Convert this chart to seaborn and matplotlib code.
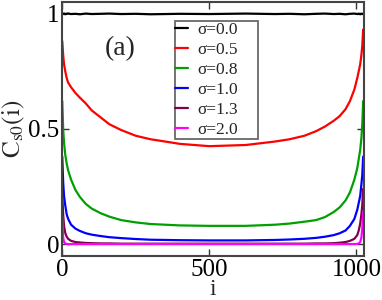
import matplotlib
matplotlib.use("Agg")
import matplotlib.pyplot as plt
import seaborn as sns
import pandas as pd

site = [0, 3, 6, 10, 15, 20, 30, 45, 60, 80, 100, 130, 160, 200, 250, 300, 400, 500,
        623, 723, 773, 823, 863, 893, 923, 943, 963, 978, 993, 1003, 1008, 1013, 1017, 1020, 1023]

sigma_labels = ["σ=0.0", "σ=0.5", "σ=0.8", "σ=1.0", "σ=1.3", "σ=2.0"]

c_s00 = [0.998, 0.997, 0.999, 0.996, 0.998, 0.999, 0.997, 0.998, 0.996, 0.999, 0.997, 0.998, 0.999, 0.997,
         0.998, 0.996, 0.998, 0.997, 0.999, 0.997, 0.998, 0.996, 0.998, 0.999, 0.997, 0.998, 0.996, 0.998,
         0.999, 0.997, 0.998, 0.996, 0.998, 0.997, 0.998]
c_s05 = [0.88, 0.82, 0.78, 0.75, 0.72, 0.70, 0.68, 0.655, 0.635, 0.61, 0.58, 0.55, 0.52, 0.495, 0.47,
         0.455, 0.435, 0.425, 0.43, 0.445, 0.455, 0.47, 0.49, 0.51, 0.535, 0.555, 0.585, 0.62, 0.67,
         0.72, 0.75, 0.78, 0.82, 0.86, 0.93]
c_s08 = [0.62, 0.50, 0.44, 0.39, 0.35, 0.32, 0.28, 0.235, 0.205, 0.175, 0.155, 0.135, 0.12, 0.105, 0.095,
         0.088, 0.082, 0.08, 0.08, 0.085, 0.09, 0.098, 0.105, 0.118, 0.14, 0.16, 0.19, 0.225, 0.28,
         0.33, 0.37, 0.41, 0.46, 0.52, 0.62]
c_s10 = [0.38, 0.27, 0.21, 0.17, 0.13, 0.11, 0.085, 0.068, 0.058, 0.048, 0.042, 0.036, 0.031, 0.027, 0.023,
         0.02, 0.018, 0.017, 0.017, 0.019, 0.021, 0.024, 0.028, 0.033, 0.04, 0.048, 0.06, 0.08, 0.11,
         0.15, 0.18, 0.21, 0.26, 0.30, 0.38]
c_s13 = [0.22, 0.13, 0.08, 0.05, 0.033, 0.024, 0.015, 0.01, 0.008, 0.006, 0.005, 0.004, 0.004, 0.003, 0.003,
         0.003, 0.003, 0.003, 0.003, 0.003, 0.003, 0.003, 0.004, 0.004, 0.005, 0.007, 0.01, 0.015, 0.024,
         0.04, 0.06, 0.09, 0.13, 0.17, 0.24]
c_s20 = [0.12, 0.03, 0.01, 0.004, 0.002, 0.001, 0.001, 0.001, 0.001, 0.001, 0.001, 0.001, 0.001, 0.001, 0.001,
         0.001, 0.001, 0.001, 0.001, 0.001, 0.001, 0.001, 0.001, 0.001, 0.001, 0.001, 0.001, 0.001, 0.001,
         0.002, 0.004, 0.01, 0.03, 0.07, 0.14]

series = [c_s00, c_s05, c_s08, c_s10, c_s13, c_s20]
colors = ["#000000", "#ff0000", "#00a000", "#0000ff", "#800050", "#ff00ff"]

frames = []
for lab, vals in zip(sigma_labels, series):
    frames.append(pd.DataFrame({"i": site, "C": vals, "sigma": lab}))
df = pd.concat(frames, ignore_index=True)

sns.set_style("ticks")
plt.rcParams["font.family"] = ["Liberation Serif", "DejaVu Serif"]
plt.rcParams["mathtext.fontset"] = "stix"

fig = plt.figure(figsize=(3.82, 3.0), dpi=100)
ax = fig.add_axes([0.163, 0.147, 0.790, 0.847])

sns.lineplot(data=df, x="i", y="C", hue="sigma", hue_order=sigma_labels,
             palette=colors, linewidth=1.6, ax=ax, legend=True)

ax.set_xlim(0, 1026)
ax.set_ylim(-0.05, 1.05)
ax.set_xticks([0, 500, 1000])
ax.set_xticklabels(["0", "500", "1000"])
ax.set_yticks([0, 0.5, 1])
ax.set_yticklabels(["0", "0.5", "1"])
ax.tick_params(direction="in", length=5, width=1, labelsize=18, top=True, right=True,
               pad=2, colors="#333333", labelcolor="black")
for sp in ax.spines.values():
    sp.set_visible(True)
    sp.set_linewidth(1.5)
    sp.set_color("#444444")

ax.set_xlabel("i", fontsize=17, labelpad=-1)
ax.set_ylabel(r"$\mathrm{C_{s0}(i)}$", fontsize=18, labelpad=1)

ax.text(0.191, 0.816, "(a)", transform=ax.transAxes, fontsize=20, ha="center", va="center")

leg = ax.legend(loc="upper left", bbox_to_anchor=(0.372, 0.924, 0.277, 0.0), mode="expand",
                fontsize=12.5, handlelength=0.75, handletextpad=0.5, labelspacing=0.22,
                borderpad=0.05, borderaxespad=0, frameon=True, fancybox=False)
leg.get_frame().set_edgecolor("#444444")
leg.get_frame().set_linewidth(1.3)

fig.savefig("out.png", dpi=100)
